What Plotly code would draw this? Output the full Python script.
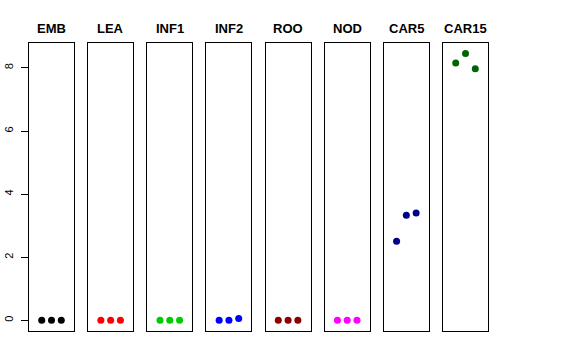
import plotly.graph_objects as go

panels = ["EMB", "LEA", "INF1", "INF2", "ROO", "NOD", "CAR5", "CAR15"]
colors = ["#000000", "#FF0000", "#00CD00", "#0000FF", "#8B0000", "#FF00FF", "#00008B", "#006400"]
reps = [1, 2, 3]
values = {
    "EMB":   [0.0, 0.0, 0.0],
    "LEA":   [0.0, 0.0, 0.0],
    "INF1":  [0.0, 0.0, 0.0],
    "INF2":  [0.0, 0.0, 0.06],
    "ROO":   [0.0, 0.0, 0.0],
    "NOD":   [0.0, 0.0, 0.0],
    "CAR5":  [2.51, 3.33, 3.40],
    "CAR15": [8.16, 8.46, 7.97],
}
y_ticks = [0, 2, 4, 6, 8]

W, H = 576, 360
left, right, top, bottom = 29, 488, 43, 331
PW = right - left
PH = bottom - top
pw = 45
gap = (PW - 8 * pw) / 7

fig = go.Figure()
layout = {}
fam = "Liberation Sans, Arial, sans-serif"
for i, name in enumerate(panels):
    x0 = i * (pw + gap) / PW
    x1 = (i * (pw + gap) + pw) / PW
    ax = "" if i == 0 else str(i + 1)
    fig.add_trace(go.Scatter(
        x=reps, y=values[name], mode="markers",
        marker=dict(color=colors[i], size=7, line=dict(width=0)),
        xaxis="x" + ax, yaxis="y" + ax, showlegend=False, hoverinfo="skip"))
    layout["xaxis" + ax] = dict(domain=[x0, min(x1, 1)], range=[-0.3, 4.3], showticklabels=False,
                                ticks="", showgrid=False, zeroline=False, automargin=False,
                                showline=True, mirror=True, linecolor="black", linewidth=1,
                                anchor="y" + ax)
    yd = dict(domain=[0, 1], range=[-0.338, 8.79], showgrid=False, automargin=False,
              zeroline=False, showline=True, mirror=True, linecolor="black", linewidth=1,
              anchor="x" + ax)
    if i == 0:
        yd.update(tickvals=y_ticks, ticktext=[str(v) for v in y_ticks], ticks="outside",
                  ticklen=7, tickcolor="black", tickangle=-90, ticklabelstandoff=4,
                  tickfont=dict(size=11, family=fam, color="black"))
    else:
        yd.update(showticklabels=False, ticks="")
    layout["yaxis" + ax] = yd
    fig.add_annotation(text="<b>" + name + "</b>", x=(x0 + x1) / 2, y=1 + 15 / PH,
                       xref="paper", yref="paper", showarrow=False,
                       xanchor="center", yanchor="middle",
                       font=dict(family=fam, size=13, color="black"))

fig.update_layout(**layout)
fig.update_layout(width=W, height=H,
                  margin=dict(l=left, r=W - right, t=top, b=H - bottom, autoexpand=False),
                  paper_bgcolor="white", plot_bgcolor="white",
                  font=dict(family=fam, size=12, color="black"))
fig.write_html("out.html", config={"displayModeBar": False, "staticPlot": True},
               post_script="document.body.style.margin='0';document.body.style.overflow='hidden';")
